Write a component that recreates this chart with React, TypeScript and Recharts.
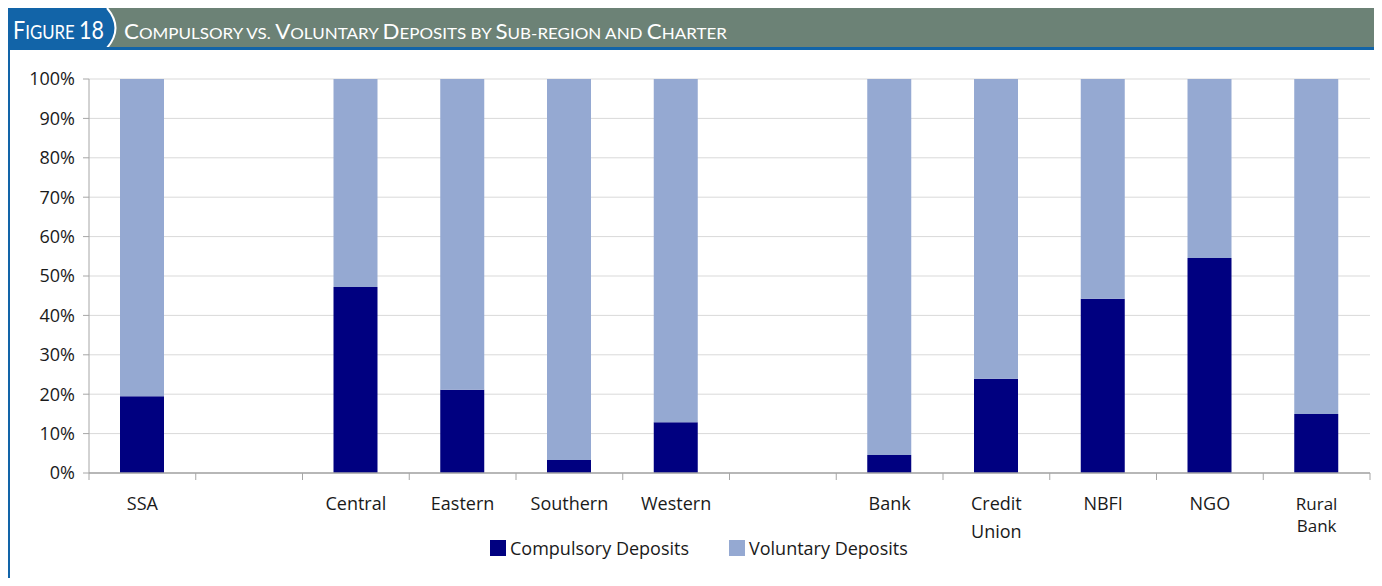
import React from "react";
import { BarChart, Bar, XAxis, YAxis, CartesianGrid } from "recharts";

// ---------- data ----------
const categories = [
  "SSA",
  "",
  "Central",
  "Eastern",
  "Southern",
  "Western",
  "",
  "Bank",
  "Credit\nUnion",
  "NBFI",
  "NGO",
  "Rural\nBank",
];
const compulsoryDeposits = [19.5, null, 47.2, 21.1, 3.3, 12.9, null, 4.6, 23.9, 44.2, 54.6, 15.0];
const voluntaryDeposits = [80.5, null, 52.8, 78.9, 96.7, 87.1, null, 95.4, 76.1, 55.8, 45.4, 85.0];
const yTicks = [0, 10, 20, 30, 40, 50, 60, 70, 80, 90, 100];
const slotBoundaries = [0, 1, 2, 3, 4, 5, 6, 7, 8, 9, 10, 11, 12];
const seriesNames = ["Compulsory Deposits", "Voluntary Deposits"];
const figureLabel = "Figure 18";
const titleText = "Compulsory vs. Voluntary Deposits by Sub-region and Charter";

// ---------- styles ----------
const COLORS = { compulsory: "#000080", voluntary: "#95A9D2" };
const HEADER_GRAY = "#6C8276";
const HEADER_BLUE = "#1264A8";
const AXIS_GRAY = "#A6A6A6";
const FONT = "'Open Sans', 'Noto Sans', sans-serif";
const HEADER_FONT = "Lato, 'Noto Sans', sans-serif";
const compactLabels = new Set(["Rural\nBank"]);

const data = categories.map((name, i) => ({
  idx: i,
  name,
  compulsory: compulsoryDeposits[i],
  voluntary: voluntaryDeposits[i],
}));

function SmallCaps({ text, big, small }: { text: string; big: number; small: number }) {
  const parts: React.ReactNode[] = [];
  for (let i = 0; i < text.length; i++) {
    const ch = text[i];
    const isBig = ch !== ch.toLowerCase() || /[0-9]/.test(ch);
    parts.push(
      <tspan key={i} fontSize={isBig ? big : small}>
        {ch.toUpperCase()}
      </tspan>
    );
  }
  return <>{parts}</>;
}

const CatTick = (props: any) => {
  const { x, y, payload } = props;
  const label = categories[payload.value] ?? "";
  if (!label) return <g />;
  const lines = label.split("\n");
  const compact = compactLabels.has(label);
  const fs = compact ? 17 : 18;
  const lh = compact ? 22 : 28;
  return (
    <g>
      {lines.map((ln, i) => (
        <text
          key={i}
          x={x}
          y={y + 29 + i * lh}
          textAnchor="middle"
          fontSize={fs}
          fontFamily={FONT}
          fill="#1a1a1a"
        >
          {ln}
        </text>
      ))}
    </g>
  );
};

const EmptyTick = () => <g />;

export default function App() {
  return (
    <div
      style={{
        position: "relative",
        width: 1382,
        height: 586,
        margin: -8,
        overflow: "hidden",
        background: "#fff",
        fontFamily: FONT,
      }}
    >
      {/* header */}
      <svg width={1382} height={586} style={{ position: "absolute", left: 0, top: 0 }}>
        <rect x={8} y={8} width={1374} height={40} fill={HEADER_GRAY} />
        <path d="M8,8 H107 Q124,28 107,48 H8 Z" fill={HEADER_BLUE} />
        <path d="M107,8 Q124,28 107,48" fill="none" stroke="#ffffff" strokeWidth={2} />
        <rect x={8} y={47} width={1374} height={3} fill={HEADER_BLUE} />
        <rect x={7} y={48} width={3} height={538} fill={HEADER_BLUE} />
        <text x={13} y={39} fill="#fff" fontFamily={HEADER_FONT} textLength={91} lengthAdjust="spacingAndGlyphs">
          <SmallCaps text={figureLabel} big={25} small={19.5} />
        </text>
        <text x={124} y={39} fill="#fff" fontFamily={HEADER_FONT} textLength={603} lengthAdjust="spacingAndGlyphs">
          <SmallCaps text={titleText} big={21} small={16} />
        </text>
      </svg>

      <div style={{ position: "absolute", left: 0, top: 0 }}>
        <BarChart
          width={1382}
          height={586}
          data={data}
          margin={{ top: 79, right: 12, left: 29, bottom: 45 }}
          barCategoryGap={0}
        >
          <CartesianGrid vertical={false} stroke="#D9D9D9" xAxisId="cat" yAxisId="y" />
          <XAxis
            xAxisId="bounds"
            dataKey="idx"
            type="number"
            domain={[0, 12]}
            ticks={slotBoundaries}
            allowDataOverflow
            tick={<EmptyTick />}
            axisLine={{ stroke: AXIS_GRAY, strokeWidth: 1.5 }}
            tickLine={{ stroke: AXIS_GRAY }}
            tickSize={7}
            height={8}
          />
          <XAxis
            xAxisId="cat"
            dataKey="idx"
            type="category"
            tick={<CatTick />}
            tickLine={false}
            tickSize={0}
            tickMargin={0}
            interval={0}
            axisLine={false}
            height={60}
          />
          <YAxis
            yAxisId="y"
            width={60}
            domain={[0, 100]}
            ticks={yTicks}
            tickFormatter={(v: number) => `${v}%`}
            axisLine={{ stroke: AXIS_GRAY }}
            tickLine={{ stroke: AXIS_GRAY }}
            tickSize={6}
            tickMargin={8}
            tick={{ fontSize: 18, fontFamily: FONT, fill: "#1a1a1a" }}
          />
          <Bar
            dataKey="compulsory"
            name={seriesNames[0]}
            stackId="a"
            xAxisId="cat"
            yAxisId="y"
            fill={COLORS.compulsory}
            barSize={44}
            isAnimationActive={false}
          />
          <Bar
            dataKey="voluntary"
            name={seriesNames[1]}
            stackId="a"
            xAxisId="cat"
            yAxisId="y"
            fill={COLORS.voluntary}
            barSize={44}
            isAnimationActive={false}
          />
        </BarChart>
      </div>

      {/* legend */}
      <div
        style={{
          position: "absolute",
          left: 490,
          top: 536,
          display: "flex",
          alignItems: "center",
          fontSize: 18,
          lineHeight: "24px",
          color: "#1a1a1a",
          fontFamily: FONT,
        }}
      >
        {seriesNames.map((n, i) => (
          <div key={n} style={{ display: "flex", alignItems: "center", marginRight: i === 0 ? 40 : 0 }}>
            <span
              style={{
                display: "inline-block",
                width: 16,
                height: 16,
                background: i === 0 ? COLORS.compulsory : COLORS.voluntary,
                marginRight: 4,
              }}
            />
            <span>{n}</span>
          </div>
        ))}
      </div>
    </div>
  );
}
